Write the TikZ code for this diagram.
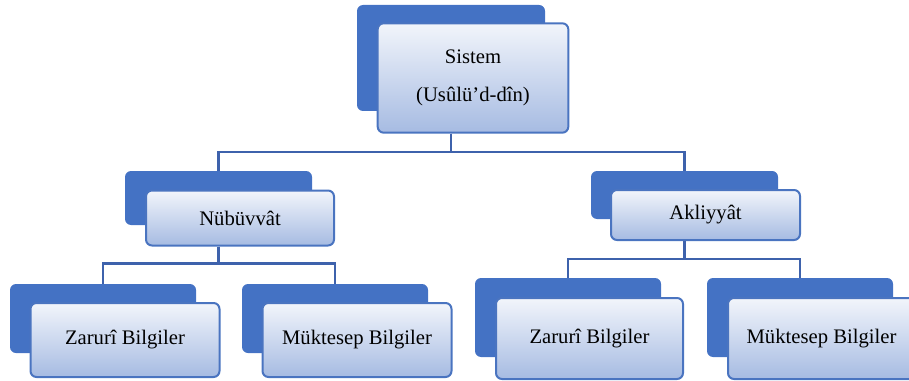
\documentclass[tikz,border=0pt]{standalone}
\usepackage{fontspec}
\setmainfont{Liberation Serif}
\definecolor{boxblue}{RGB}{68,114,196}
\definecolor{edgeblue}{RGB}{74,116,192}
\definecolor{shadetop}{RGB}{242,245,251}
\definecolor{shadebot}{RGB}{166,187,226}
\definecolor{linkblue}{RGB}{62,98,172}
\tikzset{
backbox/.style={fill=boxblue,rounded corners=4.5pt,inner sep=0pt},
frontbox/.style={draw=edgeblue,line width=1.5pt,rounded corners=4.5pt,top color=shadetop,bottom color=shadebot,inner sep=0pt,align=center,font=\fontsize{15.5}{28.5}\selectfont},
link/.style={linkblue,line width=1.6pt}
}
\begin{document}
\begin{tikzpicture}[x=0.75pt,y=-0.75pt]
\clip (0,0) rectangle (909,381);
%top
\node[backbox,minimum width=141pt,minimum height=79.5pt] (sistemB) at (451,58) {};
\node[frontbox,minimum width=143pt,minimum height=82pt] (sistem) at (473,78) {Sistem\\(Usûlü’d-dîn)};
%middle row
\node[backbox,minimum width=140.25pt,minimum height=40.5pt] (nubuvvatB) at (218.5,198) {};
\node[frontbox,minimum width=141pt,minimum height=41.25pt] (nubuvvat) at (240,218) {Nübüvvât};
\node[backbox,minimum width=140.25pt,minimum height=36pt] (akliyyatB) at (684.5,195) {};
\node[frontbox,minimum width=141.75pt,minimum height=37.5pt] (akliyyat) at (705.5,215) {Akliyyât};
%bottom row, left
\node[backbox,minimum width=139.5pt,minimum height=51.75pt] (zaruriLB) at (103,318.5) {};
\node[frontbox,minimum width=141.75pt,minimum height=55.5pt] (zaruriL) at (125,340) {Zarurî Bilgiler};
\node[backbox,minimum width=139.5pt,minimum height=51.75pt] (muktesepLB) at (335,318.5) {};
\node[frontbox,minimum width=141.75pt,minimum height=55.5pt] (muktesepL) at (357,340) {Müktesep Bilgiler};
%bottom row, right
\node[backbox,minimum width=139.5pt,minimum height=59.25pt] (zaruriRB) at (568,317.5) {};
\node[frontbox,minimum width=140.25pt,minimum height=60.75pt] (zaruriR) at (589.5,338.5) {Zarurî Bilgiler};
\node[backbox,minimum width=139.5pt,minimum height=59.25pt] (muktesepRB) at (800,317.5) {};
\node[frontbox,minimum width=140.25pt,minimum height=60.75pt] (muktesepR) at (821.5,338.5) {Müktesep Bilgiler};
%connectors
\draw[link] (sistemB.center |- sistem.south) -- ++(0,18) -| (nubuvvatB.north);
\draw[link] (sistemB.center |- sistem.south) -- ++(0,18) -| (akliyyatB.north);
\draw[link] (nubuvvatB.center |- nubuvvat.south) -- ++(0,17) -| (zaruriLB.north);
\draw[link] (nubuvvatB.center |- nubuvvat.south) -- ++(0,17) -| (muktesepLB.north);
\draw[link] (akliyyatB.center |- akliyyat.south) -- ++(0,18) -| (zaruriRB.north);
\draw[link] (akliyyatB.center |- akliyyat.south) -- ++(0,18) -| (muktesepRB.north);
\end{tikzpicture}
\end{document}
